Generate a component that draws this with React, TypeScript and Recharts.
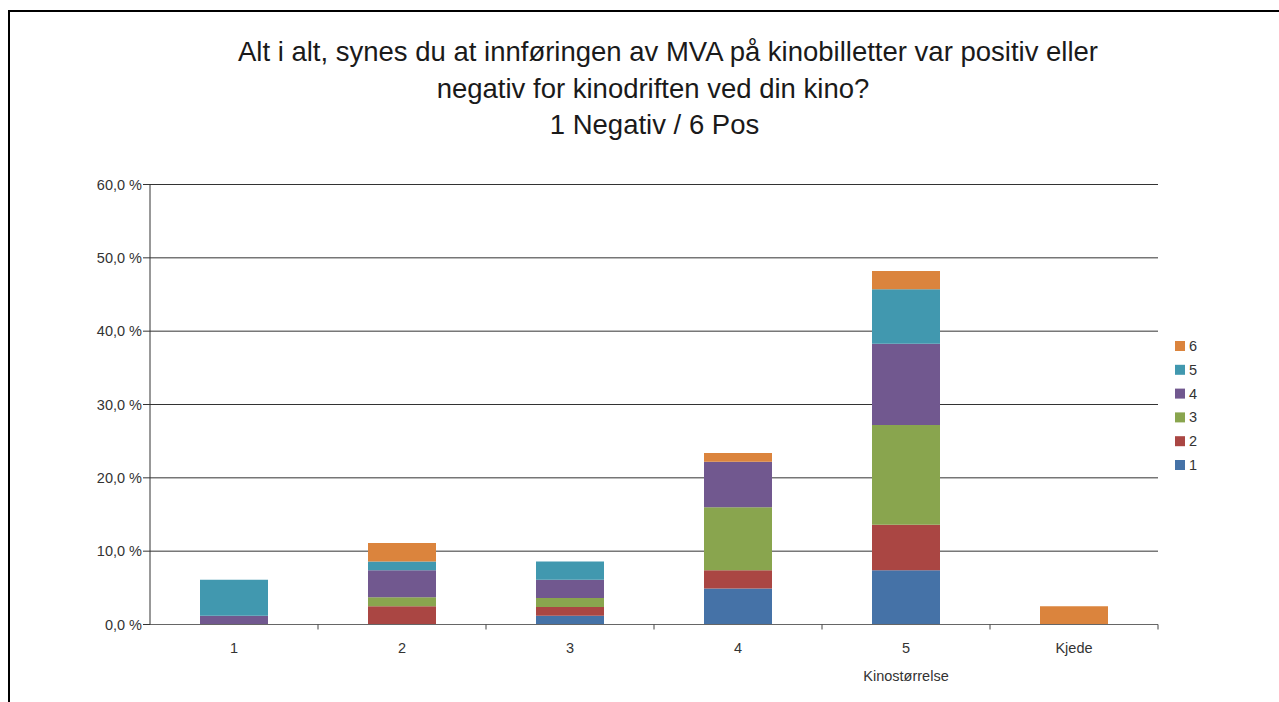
import React from 'react';
import { BarChart, Bar, XAxis, YAxis, CartesianGrid } from 'recharts';

const categories = ['1', '2', '3', '4', '5', 'Kjede'];
const seriesNames = ['1', '2', '3', '4', '5', '6'];
const seriesColors = ['#4572A7', '#AA4643', '#89A54E', '#71588F', '#4198AF', '#DB843D'];
const s1 = [0, 0, 1.2, 4.9, 7.4, 0];
const s2 = [0, 2.5, 1.2, 2.5, 6.2, 0];
const s3 = [0, 1.2, 1.2, 8.6, 13.6, 0];
const s4 = [1.2, 3.7, 2.5, 6.2, 11.1, 0];
const s5 = [4.9, 1.2, 2.5, 0, 7.4, 0];
const s6 = [0, 2.5, 0, 1.2, 2.5, 2.5];
const seriesValues = [s1, s2, s3, s4, s5, s6];
const yTicks = [0, 10, 20, 30, 40, 50, 60];
const titleLines = [
  'Alt i alt, synes du at innføringen av MVA på kinobilletter var positiv eller',
  'negativ for kinodriften ved din kino?',
  '1 Negativ / 6 Pos',
];
const titleCenters = [668, 653, 654.5];
const xAxisTitle = 'Kinostørrelse';

const data = categories.map((c, i) => {
  const row: any = { cat: c };
  seriesNames.forEach((n, k) => {
    row['s' + n] = seriesValues[k][i];
  });
  return row;
});

const FONT = '"Liberation Sans", Arial, Helvetica, sans-serif';
const BAND = 168;

const XTick = (props: any) => {
  const { x, y, payload } = props;
  return (
    <g>
      <line x1={x + BAND / 2} x2={x + BAND / 2} y1={y} y2={y + 5} stroke="#444" strokeWidth={1} />
      <text x={x} y={y + 28} textAnchor="middle" fontSize={14.5} fill="#333" fontFamily={FONT}>
        {payload.value}
      </text>
    </g>
  );
};

const fmt = (v: number) => v.toFixed(1).replace('.', ',') + ' %';

export default function App() {
  return (
    <div style={{ position: 'relative', width: 1279, height: 702, overflow: 'hidden', background: '#fff', fontFamily: FONT }}>
      <style>{'html,body{margin:0;padding:0;overflow:hidden;background:#fff}'}</style>
      <div
        style={{
          position: 'absolute',
          left: 8,
          top: 10,
          width: 1300,
          height: 720,
          border: '2px solid #000',
          boxSizing: 'border-box',
        }}
      />
      <div style={{ position: 'absolute', left: 0, top: 0 }}>
        <BarChart
          width={1279}
          height={702}
          data={data}
          margin={{ top: 184.5, right: 121, bottom: 47.5, left: 0 }}
          barSize={68}
        >
          <CartesianGrid vertical={false} stroke="#333" strokeWidth={1} />
          <XAxis
            dataKey="cat"
            interval={0}
            height={30}
            tickLine={false}
            tickSize={0}
            tickMargin={0}
            axisLine={{ stroke: '#666' }}
            tick={<XTick />}
          />
          <YAxis
            width={150}
            domain={[0, 60]}
            ticks={yTicks}
            interval={0}
            tickFormatter={fmt}
            tickSize={7}
            tickMargin={1}
            axisLine={{ stroke: '#333' }}
            tickLine={{ stroke: '#333' }}
            tick={{ fontSize: 14.5, fill: '#333', fontFamily: FONT }}
          />
          {seriesNames.map((n, k) => (
            <Bar
              key={n}
              dataKey={'s' + n}
              stackId="a"
              fill={seriesColors[k]}
              isAnimationActive={false}
            />
          ))}
        </BarChart>
      </div>
      <svg width={1279} height={702} style={{ position: 'absolute', left: 0, top: 0, pointerEvents: 'none' }}>
        {titleLines.map((t, i) => (
          <text
            key={i}
            x={titleCenters[i]}
            y={61 + i * 36.5}
            textAnchor="middle"
            fontSize={27.5}
            fill="#1a1a1a"
            fontFamily={FONT}
          >
            {t}
          </text>
        ))}
        <text x={906} y={681} textAnchor="middle" fontSize={14.5} fill="#333" fontFamily={FONT}>
          {xAxisTitle}
        </text>
        {seriesNames
          .map((n, k) => ({ n, c: seriesColors[k] }))
          .reverse()
          .map((it, i) => (
            <g key={it.n}>
              <rect x={1175} y={341 + i * 23.8} width={10} height={10} fill={it.c} />
              <text x={1189} y={351 + i * 23.8} fontSize={14.5} fill="#333" fontFamily={FONT}>
                {it.n}
              </text>
            </g>
          ))}
      </svg>
    </div>
  );
}
